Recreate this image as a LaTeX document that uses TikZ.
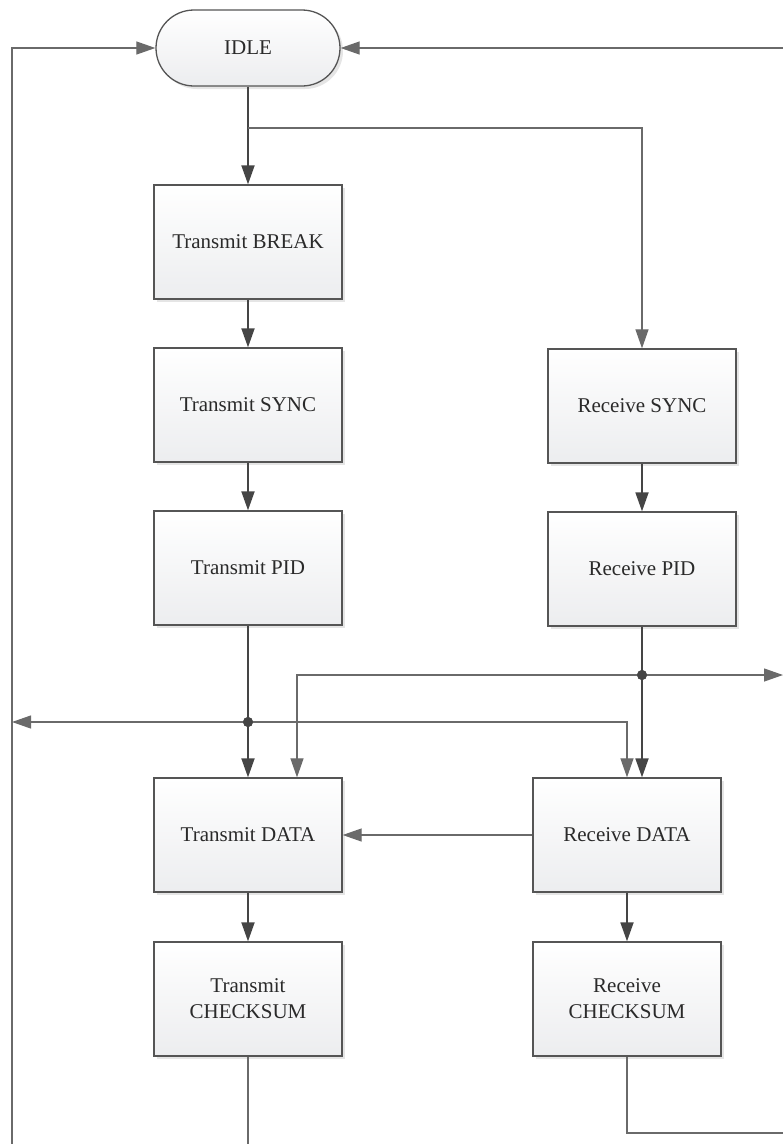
\documentclass[tikz,border=0pt]{standalone}
\usepackage{fontspec}
\setmainfont{Liberation Serif}
\usetikzlibrary{arrows.meta,shadows,shapes.misc}

\definecolor{edgec}{HTML}{555555}
\definecolor{flowc}{HTML}{454545}
\definecolor{linkc}{HTML}{6A6A6A}
\definecolor{fillb}{HTML}{ECEDEF}
\definecolor{textc}{HTML}{2A2A2A}

\begin{document}
\begin{tikzpicture}[x=1pt,y=-1pt,
  tip/.style={-{Triangle[length=19pt,width=13pt]}},
  shade/.style={drop shadow={shadow xshift=3pt,shadow yshift=-3pt,fill=black!10,opacity=1}},
  stepbox/.style={draw=edgec,line width=1.3pt,top color=white,bottom color=fillb,
    minimum width=188pt,minimum height=114pt,inner sep=2pt,align=center,
    text=textc,font=\fontsize{21}{26}\selectfont,shade},
  startbox/.style={rounded rectangle,draw=edgec,line width=1.3pt,top color=white,bottom color=fillb,
    minimum width=188pt,minimum height=76pt,inner sep=2pt,
    text=textc,font=\fontsize{21}{26}\selectfont,shade},
  flow/.style={draw=flowc,line width=1.8pt,tip},
  link/.style={draw=linkc,line width=1.2pt},
  linkarrow/.style={link,tip},
  dot/.style={circle,fill=flowc,inner sep=0pt,minimum size=10pt}
]
\useasboundingbox (0,0) rectangle (783,1144);

% states
\node[startbox] (idle) at (248,48) {IDLE};
\node[stepbox] (tbrk) at (248,242) {Transmit BREAK};
\node[stepbox] (tsync) at (248,405) {Transmit SYNC};
\node[stepbox] (tpid) at (248,568) {Transmit PID};
\node[stepbox] (rsync) at (642,406) {Receive SYNC};
\node[stepbox] (rpid) at (642,569) {Receive PID};
\node[stepbox] (tdata) at (248,835) {Transmit DATA};
\node[stepbox] (rdata) at (627,835) {Receive DATA};
\node[stepbox] (tchk) at (248,999) {Transmit\\CHECKSUM};
\node[stepbox] (rchk) at (627,999) {Receive\\CHECKSUM};

% branch points and loose ends at the border
\coordinate (split) at (248,128);
\node[dot] (jt) at (248,722) {};
\node[dot] (jr) at (642,675) {};
\coordinate (leftin) at (12,722);
\coordinate (leftbot) at (12,1144);
\coordinate (rightout) at (783,675);
\coordinate (righttop) at (783,48);
\coordinate (tbot) at (248,1144);
\coordinate (rbot) at (627,1133);
\coordinate (rbotend) at (783,1133);

% transmit chain
\draw[flow] (idle.south) -- (tbrk.north);
\draw[flow] (tbrk) -- (tsync);
\draw[flow] (tsync) -- (tpid);
\draw[flow] (tpid.south) -- (jt.center) -- (tdata.north);
\draw[flow] (tdata) -- (tchk);
\draw[link] (tchk.south) -- (tbot);

% receive chain
\draw[linkarrow] (split) -| (rsync.north);
\draw[flow] (rsync) -- (rpid);
\draw[flow] (rpid.south) -- (jr.center) -- (rpid.south |- rdata.north);
\draw[flow] (rdata) -- (rchk);
\draw[link] (rchk.south) -- (rbot) -- (rbotend);

% cross links
\draw[linkarrow] (jt.center) -| (rdata.north);
\draw[linkarrow] (jr.center) -| ([xshift=49pt]tdata.north);
\draw[linkarrow] (jr.center) -- (rightout);
\draw[linkarrow] (rdata.west) -- (tdata.east);
\draw[linkarrow] (jt.center) -- (leftin);

% returns to IDLE
\draw[linkarrow] (leftbot) |- (idle.west);
\draw[linkarrow] (righttop) -- (idle.east);

% junction dots on top
\node[dot] at (jt) {};
\node[dot] at (jr) {};
\end{tikzpicture}
\end{document}
